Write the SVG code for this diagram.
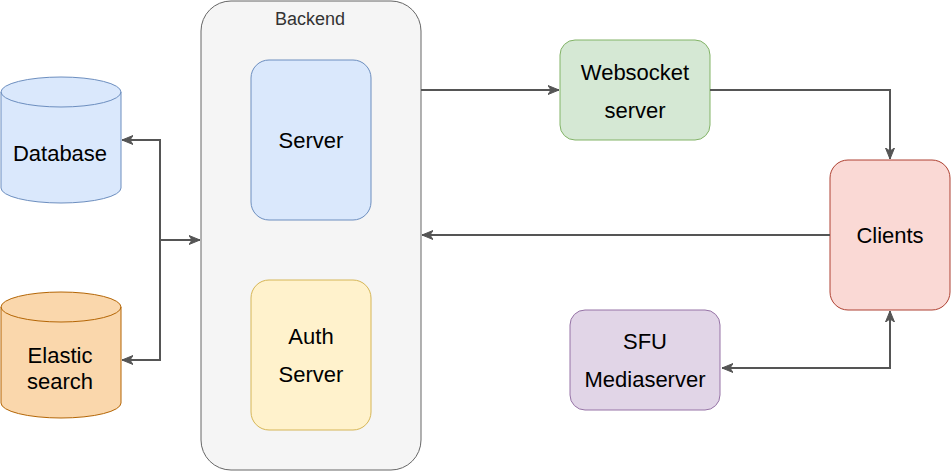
<svg xmlns="http://www.w3.org/2000/svg" width="952" height="472" viewBox="0 0 952 472">
<style>
  .lbl { font-family: "Liberation Sans", Arial, sans-serif; font-size: 22px; fill: #000; text-anchor: middle; }
  .small { font-family: "Liberation Sans", Arial, sans-serif; font-size: 18px; fill: #333; text-anchor: middle; }
  .conn { fill: none; stroke: #555; stroke-width: 2; }
</style>
<defs>
  <marker id="arr" markerUnits="userSpaceOnUse" markerWidth="12" markerHeight="10" refX="11" refY="5" orient="auto-start-reverse" viewBox="0 0 12 10">
    <path d="M0,0.5 L11,5 L0,9.5 L3,5 Z" fill="#555" stroke="#555" stroke-width="1"/>
  </marker>
</defs>
<rect width="952" height="472" fill="#fff"/>

<g id="backend">
  <rect x="201" y="1" width="220" height="469" rx="30" ry="30" fill="#f5f5f5" stroke="#666" stroke-width="1"/>
  <text class="small" x="310" y="25">Backend</text>
</g>
<g id="server">
  <rect x="251" y="60" width="120" height="160" rx="18" ry="18" fill="#dae8fc" stroke="#6c8ebf" stroke-width="1"/>
  <text class="lbl" x="311" y="148">Server</text>
</g>
<g id="auth">
  <rect x="251" y="280" width="120" height="150" rx="18" ry="18" fill="#fff2cc" stroke="#d6b656" stroke-width="1"/>
  <text class="lbl" x="311" y="344">Auth</text>
  <text class="lbl" x="311" y="382">Server</text>
</g>
<g id="database">
  <path d="M1,92 A60,15 0 0 1 121,92 L121,188 A60,15 0 0 1 1,188 Z" fill="#dae8fc" stroke="#6c8ebf" stroke-width="1"/>
  <path d="M1,92 A60,15 0 0 0 121,92" fill="none" stroke="#6c8ebf" stroke-width="1"/>
  <text class="lbl" x="60" y="161">Database</text>
</g>
<g id="elastic">
  <path d="M1,307 A60,15 0 0 1 121,307 L121,403 A60,15 0 0 1 1,403 Z" fill="#fad7ac" stroke="#b46504" stroke-width="1"/>
  <path d="M1,307 A60,15 0 0 0 121,307" fill="none" stroke="#b46504" stroke-width="1"/>
  <text class="lbl" x="60" y="363">Elastic</text>
  <text class="lbl" x="60" y="389">search</text>
</g>
<g id="websocket">
  <rect x="560" y="40" width="150" height="100" rx="15" ry="15" fill="#d5e8d4" stroke="#82b366" stroke-width="1"/>
  <text class="lbl" x="635" y="80">Websocket</text>
  <text class="lbl" x="635" y="118">server</text>
</g>
<g id="clients">
  <rect x="830" y="160" width="120" height="150" rx="18" ry="18" fill="#fad9d5" stroke="#ae4132" stroke-width="1"/>
  <text class="lbl" x="890" y="243">Clients</text>
</g>
<g id="sfu">
  <rect x="570" y="310" width="150" height="100" rx="15" ry="15" fill="#e1d5e7" stroke="#9673a6" stroke-width="1"/>
  <text class="lbl" x="645" y="349">SFU</text>
  <text class="lbl" x="645" y="387">Mediaserver</text>
</g>

<g id="connectors">
  <path class="conn" d="M160,240 L200,240" marker-end="url(#arr)"/>
  <path class="conn" d="M122,140 L160,140 L160,360 L122,360" marker-start="url(#arr)" marker-end="url(#arr)"/>
  <path class="conn" d="M421,90 L559,90" marker-end="url(#arr)"/>
  <path class="conn" d="M710,90 L890,90 L890,159" marker-end="url(#arr)"/>
  <path class="conn" d="M830,235 L422,235" marker-end="url(#arr)"/>
  <path class="conn" d="M890,311 L890,368 L722,368" marker-start="url(#arr)" marker-end="url(#arr)"/>
</g>
</svg>
